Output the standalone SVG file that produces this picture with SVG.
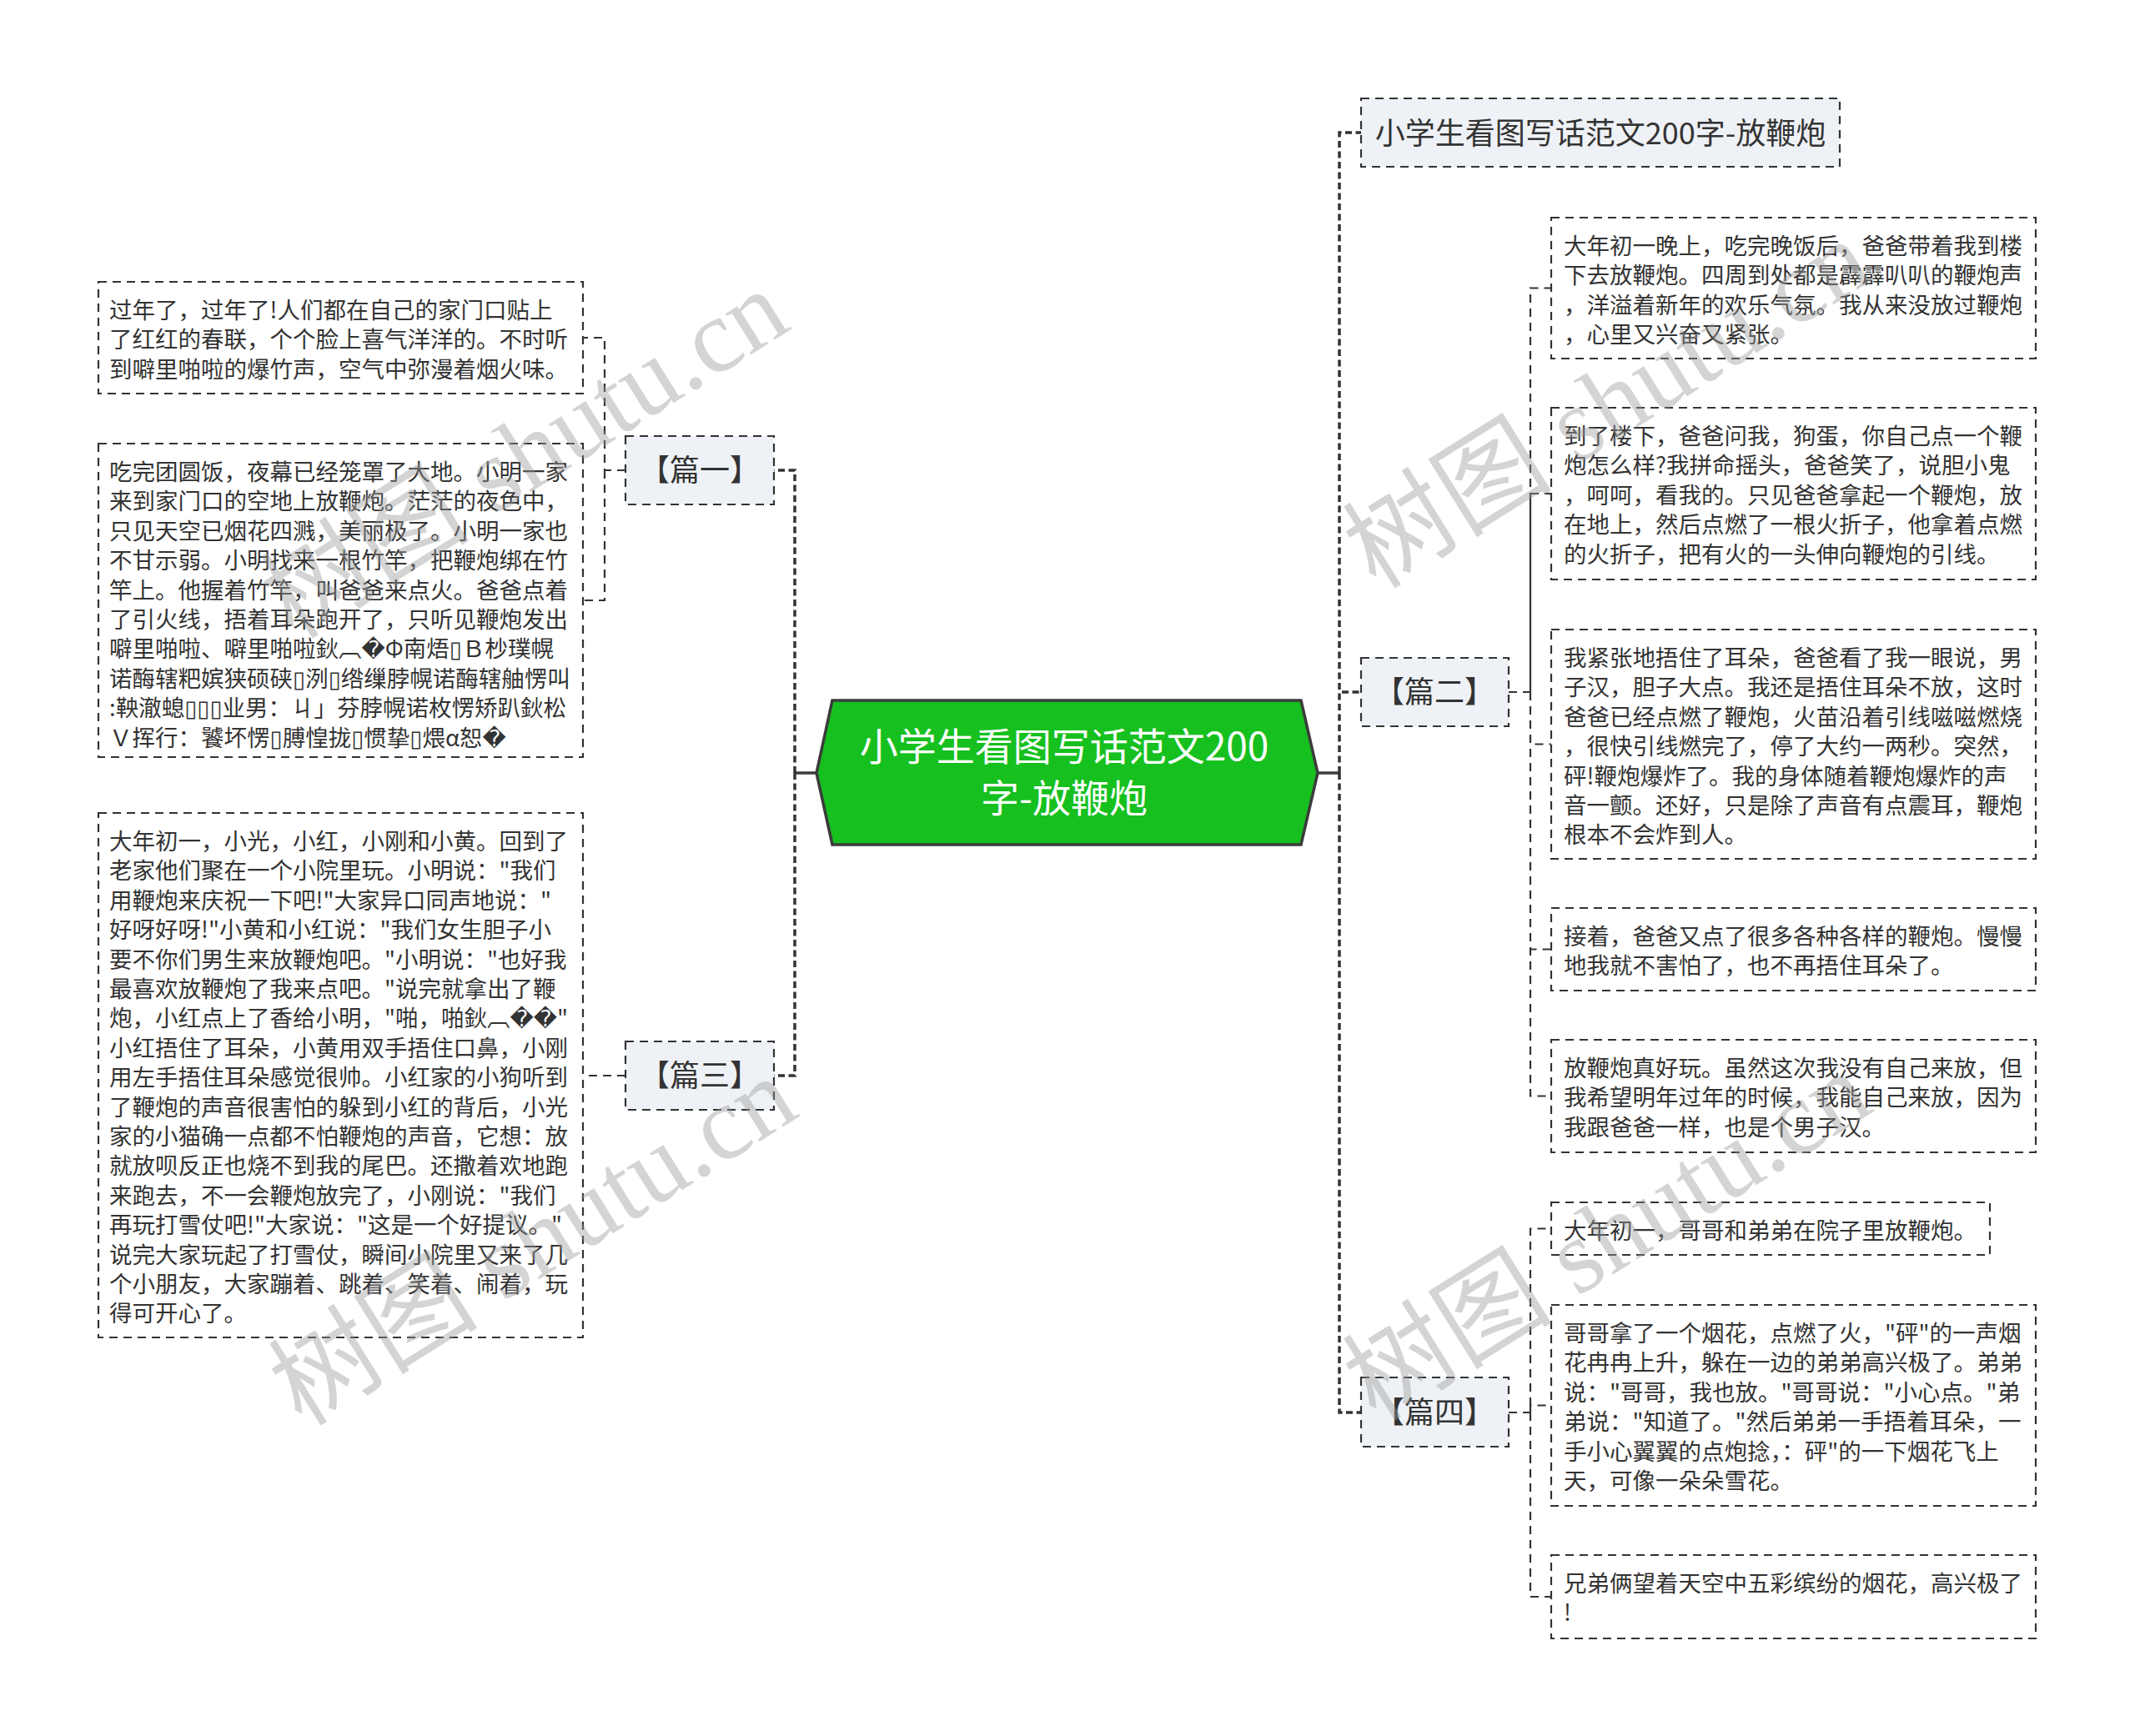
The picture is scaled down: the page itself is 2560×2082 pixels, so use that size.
<svg xmlns="http://www.w3.org/2000/svg" width="2560" height="2082" viewBox="0 0 2560 2082">
<style>
.bg{fill:#ffffff}
.t{font-family:"Noto Sans CJK SC","Liberation Sans","DejaVu Sans",sans-serif;font-size:27.5px;fill:#333333}
.leaf{fill:none;stroke:#333333;stroke-width:2.2;stroke-dasharray:10 7}
.sub{fill:#eef1f5;stroke:#333333;stroke-width:2.2;stroke-dasharray:10 7}
.lbl{font-family:"Noto Sans CJK SC","Liberation Sans",sans-serif;font-size:36px;fill:#333333;text-anchor:middle}
.ctr{fill:#16c01f;stroke:#3b3b3b;stroke-width:3.5}
.ctrt{font-family:"Noto Sans CJK SC","Liberation Sans",sans-serif;font-size:46px;fill:#ffffff;text-anchor:middle}
.trunk{fill:none;stroke:#333333;stroke-width:3.5;stroke-dasharray:8 4.5}
.br{fill:none;stroke:#333333;stroke-width:2.2;stroke-dasharray:10 7}
.solid{fill:none;stroke:#3b3b3b;stroke-width:3.5}
.wm{font-family:"Liberation Serif","Noto Sans CJK SC",serif;font-size:126px;fill:#999999;fill-opacity:0.42}
</style>
<rect class="bg" x="0" y="0" width="2560" height="2082"/>

<g id="connectors">
  <path class="solid" d="M979,927 H953"/>
  <path class="solid" d="M1580,927 H1606"/>
  <path class="trunk" d="M953,927 V564 H928 M953,927 V1290 H928"/>
  <path class="trunk" d="M1606,927 V159 H1632 M1606,927 V830 H1632 M1606,927 V1694 H1632"/>
  <path class="br" d="M750,564 H725 V405 H699 M725,564 V720 H699"/>
  <path class="br" d="M750,1290 H699"/>
  <path class="br" d="M1809,830 H1835 V345.5 H1860 M1835,830 V592 H1860 M1835,830 V892.5 H1860 M1835,830 V1138.5 H1860 M1835,830 V1314.5 H1860"/>
  <path class="br" d="M1809,1694 H1835 V1473.5 H1860 M1835,1694 V1685.5 H1860 M1835,1694 V1915 H1860"/>
</g>

<g id="center">
  <polygon class="ctr" points="979,927 998,840 1560,840 1580,927 1560,1013 998,1013"/>
  <text class="ctrt" x="1276" y="912">小学生看图写话范文200</text>
  <text class="ctrt" x="1276" y="974">字-放鞭炮</text>
</g>

<g id="title">
  <rect class="sub" x="1632" y="118" width="574" height="82"/>
  <text class="lbl" x="1919" y="173">小学生看图写话范文200字-放鞭炮</text>
</g>

<g id="p1">
  <rect class="sub" x="750" y="523" width="178" height="82"/>
  <text class="lbl" x="839" y="577">【篇一】</text>
</g>
<g id="p3">
  <rect class="sub" x="750" y="1249" width="178" height="82"/>
  <text class="lbl" x="839" y="1303">【篇三】</text>
</g>
<g id="p2">
  <rect class="sub" x="1632" y="789" width="177" height="82"/>
  <text class="lbl" x="1720" y="843">【篇二】</text>
</g>
<g id="p4">
  <rect class="sub" x="1632" y="1652" width="177" height="83"/>
  <text class="lbl" x="1720" y="1707">【篇四】</text>
</g>

<g id="l1a">
  <rect class="leaf" x="118" y="338" width="581" height="134"/>
  <text class="t" x="131" y="382"><tspan x="131" dy="0">过年了，过年了!人们都在自己的家门口贴上</tspan><tspan x="131" dy="35.4">了红红的春联，个个脸上喜气洋洋的。不时听</tspan><tspan x="131" dy="35.4">到噼里啪啦的爆竹声，空气中弥漫着烟火味。</tspan></text>
</g>

<g id="l1b">
  <rect class="leaf" x="118" y="532" width="581" height="376"/>
  <text class="t" x="131" y="576"><tspan x="131" dy="0">吃完团圆饭，夜幕已经笼罩了大地。小明一家</tspan><tspan x="131" dy="35.4">来到家门口的空地上放鞭炮。茫茫的夜色中，</tspan><tspan x="131" dy="35.4">只见天空已烟花四溅，美丽极了。小明一家也</tspan><tspan x="131" dy="35.4">不甘示弱。小明找来一根竹竿，把鞭炮绑在竹</tspan><tspan x="131" dy="35.4">竿上。他握着竹竿，叫爸爸来点火。爸爸点着</tspan><tspan x="131" dy="35.4">了引火线，捂着耳朵跑开了，只听见鞭炮发出</tspan><tspan x="131" dy="35.4">噼里啪啦、噼里啪啦鈥︹�Φ南焐▯Ｂ杪璞幌</tspan><tspan x="131" dy="35.4">诺酶辖粑嫔狭硕硖▯洌▯绺缫脖幌诺酶辖舳愣叫</tspan><tspan x="131" dy="35.4">:鞅澈螅▯▯▯业男：ㄐ」芬脖幌诺枚愣矫趴鈥松</tspan><tspan x="131" dy="35.4">Ｖ挥行：饕坏愣▯膊惶拢▯惯挚▯煨α恕�</tspan></text>
</g>

<g id="l3">
  <rect class="leaf" x="118" y="975" width="581" height="629"/>
  <text class="t" x="131" y="1019"><tspan x="131" dy="0">大年初一，小光，小红，小刚和小黄。回到了</tspan><tspan x="131" dy="35.4">老家他们聚在一个小院里玩。小明说："我们</tspan><tspan x="131" dy="35.4">用鞭炮来庆祝一下吧!"大家异口同声地说："</tspan><tspan x="131" dy="35.4">好呀好呀!"小黄和小红说："我们女生胆子小</tspan><tspan x="131" dy="35.4">要不你们男生来放鞭炮吧。"小明说："也好我</tspan><tspan x="131" dy="35.4">最喜欢放鞭炮了我来点吧。"说完就拿出了鞭</tspan><tspan x="131" dy="35.4">炮，小红点上了香给小明，"啪，啪鈥︹��"</tspan><tspan x="131" dy="35.4">小红捂住了耳朵，小黄用双手捂住口鼻，小刚</tspan><tspan x="131" dy="35.4">用左手捂住耳朵感觉很帅。小红家的小狗听到</tspan><tspan x="131" dy="35.4">了鞭炮的声音很害怕的躲到小红的背后，小光</tspan><tspan x="131" dy="35.4">家的小猫确一点都不怕鞭炮的声音，它想：放</tspan><tspan x="131" dy="35.4">就放呗反正也烧不到我的尾巴。还撒着欢地跑</tspan><tspan x="131" dy="35.4">来跑去，不一会鞭炮放完了，小刚说："我们</tspan><tspan x="131" dy="35.4">再玩打雪仗吧!"大家说："这是一个好提议。"</tspan><tspan x="131" dy="35.4">说完大家玩起了打雪仗，瞬间小院里又来了几</tspan><tspan x="131" dy="35.4">个小朋友，大家蹦着、跳着、笑着、闹着，玩</tspan><tspan x="131" dy="35.4">得可开心了。</tspan></text>
</g>

<g id="l2a">
  <rect class="leaf" x="1860" y="261" width="581" height="169"/>
  <text class="t" x="1875" y="305"><tspan x="1875" dy="0">大年初一晚上，吃完晚饭后，爸爸带着我到楼</tspan><tspan x="1875" dy="35.4">下去放鞭炮。四周到处都是霹霹叭叭的鞭炮声</tspan><tspan x="1875" dy="35.4">，洋溢着新年的欢乐气氛。我从来没放过鞭炮</tspan><tspan x="1875" dy="35.4">，心里又兴奋又紧张。</tspan></text>
</g>
<g id="l2b">
  <rect class="leaf" x="1860" y="489" width="581" height="206"/>
  <text class="t" x="1875" y="533"><tspan x="1875" dy="0">到了楼下，爸爸问我，狗蛋，你自己点一个鞭</tspan><tspan x="1875" dy="35.4">炮怎么样?我拼命摇头，爸爸笑了，说胆小鬼</tspan><tspan x="1875" dy="35.4">，呵呵，看我的。只见爸爸拿起一个鞭炮，放</tspan><tspan x="1875" dy="35.4">在地上，然后点燃了一根火折子，他拿着点燃</tspan><tspan x="1875" dy="35.4">的火折子，把有火的一头伸向鞭炮的引线。</tspan></text>
</g>
<g id="l2c">
  <rect class="leaf" x="1860" y="755" width="581" height="275"/>
  <text class="t" x="1875" y="799"><tspan x="1875" dy="0">我紧张地捂住了耳朵，爸爸看了我一眼说，男</tspan><tspan x="1875" dy="35.4">子汉，胆子大点。我还是捂住耳朵不放，这时</tspan><tspan x="1875" dy="35.4">爸爸已经点燃了鞭炮，火苗沿着引线嗞嗞燃烧</tspan><tspan x="1875" dy="35.4">，很快引线燃完了，停了大约一两秒。突然，</tspan><tspan x="1875" dy="35.4">砰!鞭炮爆炸了。我的身体随着鞭炮爆炸的声</tspan><tspan x="1875" dy="35.4">音一颤。还好，只是除了声音有点震耳，鞭炮</tspan><tspan x="1875" dy="35.4">根本不会炸到人。</tspan></text>
</g>
<g id="l2d">
  <rect class="leaf" x="1860" y="1089" width="581" height="99"/>
  <text class="t" x="1875" y="1133"><tspan x="1875" dy="0">接着，爸爸又点了很多各种各样的鞭炮。慢慢</tspan><tspan x="1875" dy="35.4">地我就不害怕了，也不再捂住耳朵了。</tspan></text>
</g>
<g id="l2e">
  <rect class="leaf" x="1860" y="1247" width="581" height="135"/>
  <text class="t" x="1875" y="1291"><tspan x="1875" dy="0">放鞭炮真好玩。虽然这次我没有自己来放，但</tspan><tspan x="1875" dy="35.4">我希望明年过年的时候，我能自己来放，因为</tspan><tspan x="1875" dy="35.4">我跟爸爸一样，也是个男子汉。</tspan></text>
</g>

<g id="l4a">
  <rect class="leaf" x="1860" y="1442" width="526" height="63"/>
  <text class="t" x="1875" y="1486">大年初一，哥哥和弟弟在院子里放鞭炮。</text>
</g>
<g id="l4b">
  <rect class="leaf" x="1860" y="1565" width="581" height="241"/>
  <text class="t" x="1875" y="1609"><tspan x="1875" dy="0">哥哥拿了一个烟花，点燃了火，"砰"的一声烟</tspan><tspan x="1875" dy="35.4">花冉冉上升，躲在一边的弟弟高兴极了。弟弟</tspan><tspan x="1875" dy="35.4">说："哥哥，我也放。"哥哥说："小心点。"弟</tspan><tspan x="1875" dy="35.4">弟说："知道了。"然后弟弟一手捂着耳朵，一</tspan><tspan x="1875" dy="35.4">手小心翼翼的点炮捻，：砰"的一下烟花飞上</tspan><tspan x="1875" dy="35.4">天，可像一朵朵雪花。</tspan></text>
</g>
<g id="l4c">
  <rect class="leaf" x="1860" y="1865" width="581" height="100"/>
  <text class="t" x="1875" y="1909"><tspan x="1875" dy="0">兄弟俩望着天空中五彩缤纷的烟花，高兴极了</tspan><tspan x="1875" dy="35.4">!</tspan></text>
</g>

<g id="watermark">
  <text class="wm" transform="translate(352,768) rotate(-32)">树图 shutu.cn</text>
  <text class="wm" transform="translate(362,1712) rotate(-32)">树图 shutu.cn</text>
  <text class="wm" transform="translate(1650,708) rotate(-32)">树图 shutu.cn</text>
  <text class="wm" transform="translate(1650,1706) rotate(-32)">树图 shutu.cn</text>
</g>
</svg>
